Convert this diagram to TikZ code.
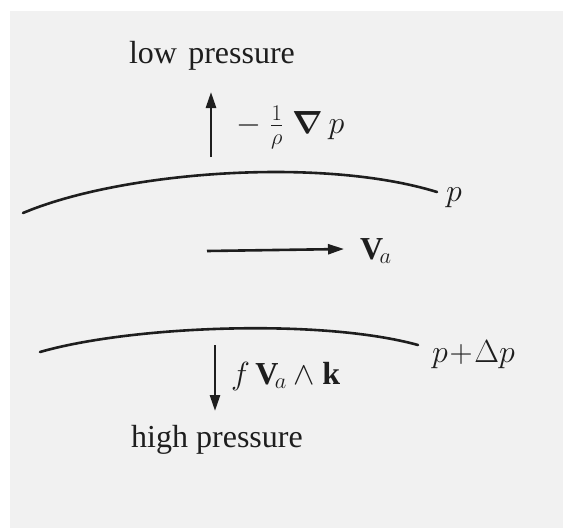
\RequirePackage{fix-cm}
\documentclass[tikz,border=0pt]{standalone}
\usepackage{fontspec}
\setmainfont{Liberation Serif}
\usepackage{bm}
\usetikzlibrary{arrows.meta}
\definecolor{bgray}{HTML}{F1F1F1}
\definecolor{ink}{HTML}{1E1E1E}
\tikzset{
  isobar/.style={draw=ink, line width=2.6pt, line cap=round},
  force/.style={draw=ink, line width=2.6pt, -{Triangle[length=16pt,width=10pt]}},
  lab/.style={inner sep=0pt, text=ink, font=\fontsize{32}{38}\selectfont}
}
\begin{document}
\begin{tikzpicture}[x=1pt,y=-1pt]
\useasboundingbox (0,0) rectangle (563,528);
\fill[bgray] (10,11) rectangle (563,528);
% isobars
\coordinate (t1) at (23,213);
\coordinate (t2) at (437,192);
\coordinate (b1) at (40,352);
\coordinate (b2) at (418,345);
\draw[isobar] (t1) .. controls (120,172) and (320,156) .. (t2);
\draw[isobar] (b1) .. controls (130,326) and (320,318) .. (b2);
% arrows
\coordinate (ua1) at (211,157);
\coordinate (ua2) at (211,92);
\coordinate (ma1) at (207,251);
\coordinate (ma2) at (344,249);
\coordinate (da1) at (215,345);
\coordinate (da2) at (215,411);
\draw[force] (ua1) -- (ua2);
\draw[force] (ma1) -- (ma2);
\draw[force] (da1) -- (da2);
% labels
\node[lab, anchor=base] (low) at (212,63) {low\hspace{0.35em}pressure};
\node[lab, anchor=base] (high) at (217,447) {high pressure};
\node[lab, anchor=base west] (pg) at (236,133) {$-\;\frac{1}{\rho}\;\bm{\nabla}\, p$};
\node[lab, anchor=base west] (pl) at (446,201) {$p$};
\node[lab, anchor=base west] (va) at (360,259) {$\mathbf{V}_{\!a}$};
\node[lab, anchor=base west] (pdp) at (432,362) {$p\!+\!\Delta p$};
\node[lab, anchor=base west] (cor) at (231,384) {$f\,\mathbf{V}_{\!a}\wedge\mathbf{k}$};
\end{tikzpicture}
\end{document}
